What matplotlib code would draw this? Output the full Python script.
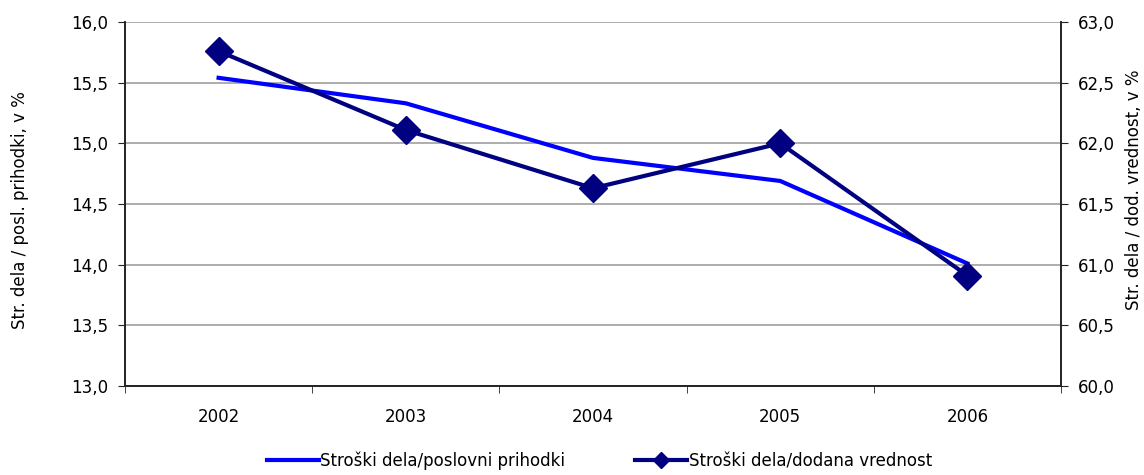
import matplotlib
matplotlib.use("Agg")
import matplotlib.pyplot as plt

years = ["2002", "2003", "2004", "2005", "2006"]
poslovni = [15.54, 15.33, 14.88, 14.69, 14.01]
dodana = [62.76, 62.11, 61.63, 62.00, 60.91]
left_ticks = [13.0, 13.5, 14.0, 14.5, 15.0, 15.5, 16.0]
right_ticks = [60.0, 60.5, 61.0, 61.5, 62.0, 62.5, 63.0]

plt.rcParams['font.family'] = ['DejaVu Sans']
FS = 12

fig = plt.figure(figsize=(11.44, 4.75), dpi=100)
ax = fig.add_axes([125/1144, 1-386/475, 936/1144, 364/475])
ax2 = ax.twinx()

x = list(range(len(years)))
l1, = ax.plot(x, poslovni, color='#0000FF', lw=3, solid_joinstyle='miter', zorder=3,
              label='Stroški dela/poslovni prihodki')
l2, = ax2.plot(x, dodana, color='#000080', lw=3, marker='D', ms=14, mew=1,
               mfc='#000080', mec='#000080', zorder=4,
               label='Stroški dela/dodana vrednost')

ax.set_xlim(-0.5, len(years) - 0.5)
ax.set_ylim(13.0, 16.0)
ax2.set_ylim(60.0, 63.0)

fmt = lambda v: f"{v:.1f}".replace('.', ',')
ax.set_yticks(left_ticks)
ax.set_yticklabels([fmt(v) for v in left_ticks], fontsize=FS)
ax2.set_yticks(right_ticks)
ax2.set_yticklabels([fmt(v) for v in right_ticks], fontsize=FS)

ax.set_xticks(x)
ax.set_xticklabels(years, fontsize=FS)
ax.set_xticks([i - 0.5 for i in range(len(years) + 1)], minor=True)
ax.tick_params(axis='x', which='major', length=0, pad=16)
ax.tick_params(axis='x', which='minor', length=5, direction='out', color='#222222')
ax.tick_params(axis='y', length=5, direction='out', pad=7, color='#222222')
ax2.tick_params(axis='y', length=5, direction='out', pad=7, color='#222222')

ax.yaxis.grid(True, color='#A0A0A0', lw=1.2)
ax.set_axisbelow(True)

for a in (ax, ax2):
    a.spines['top'].set_visible(False)
    for s in ('left', 'right', 'bottom'):
        a.spines[s].set_color('#222222')
        a.spines[s].set_linewidth(1.2)

ax.set_ylabel('Str. dela / posl. prihodki, v %', fontsize=FS)
ax.yaxis.set_label_coords(-0.1026, 0.484)
ax2.set_ylabel('Str. dela / dod. vrednost, v %', fontsize=FS)
ax2.yaxis.set_label_coords(1.068, 0.538)

fig.legend(handles=[l1, l2], loc='center', bbox_to_anchor=(0.524, 0.03), ncol=2,
           frameon=False, fontsize=FS, handlelength=3.1, handletextpad=0.1,
           columnspacing=4.2, markerscale=0.55)

fig.savefig('out.png', dpi=100)
